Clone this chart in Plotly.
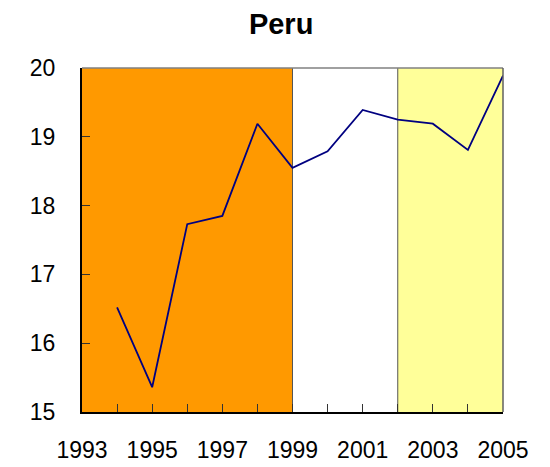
import plotly.graph_objects as go

years = [1994, 1995, 1996, 1997, 1998, 1999, 2000, 2001, 2002, 2003, 2004, 2005]
values = [16.52, 15.36, 17.73, 17.85, 19.19, 18.55, 18.79, 19.39, 19.25, 19.19, 18.81, 19.89]
x_tick_years = list(range(1993, 2006))
x_tick_labels = [str(y) if (y - 1993) % 2 == 0 else "" for y in x_tick_years]
y_ticks = [15, 16, 17, 18, 19, 20]
bands = [(1993, 1999, "#FF9900"), (2002, 2005, "#FFFF99")]
band_edges = [1999, 2002]

fig = go.Figure()
fig.add_trace(go.Scatter(x=years, y=values, mode="lines",
                         line=dict(color="#000080", width=1.8), showlegend=False))

shapes = []
for x0, x1, c in bands:
    shapes.append(dict(type="rect", xref="x", yref="y", x0=x0, x1=x1, y0=15, y1=20,
                       fillcolor=c, line=dict(width=0), layer="below"))
for e in band_edges:
    shapes.append(dict(type="line", xref="x", yref="y", x0=e, x1=e, y0=15, y1=20,
                       line=dict(color="#555555", width=1), layer="below"))
shapes.append(dict(type="line", xref="paper", yref="paper", x0=0, x1=1, y0=1, y1=1,
                   line=dict(color="#808080", width=1.5)))
shapes.append(dict(type="line", xref="paper", yref="paper", x0=1, x1=1, y0=0, y1=1,
                   line=dict(color="#606060", width=1.5)))

W, H = 542, 459
fig.update_layout(
    width=W, height=H,
    margin=dict(l=74, r=47, t=60, b=55),
    paper_bgcolor="white", plot_bgcolor="white",
    title=dict(text="<b>Peru</b>", x=0.473, xanchor="center", xref="paper",
               y=1 - 15.5 / H, yanchor="middle",
               font=dict(family="Arial, Liberation Sans", size=29, color="black")),
    font=dict(family="Arial, Liberation Sans", size=23, color="black"),
    shapes=shapes,
    xaxis=dict(range=[1993, 2005], tickvals=x_tick_years, ticktext=x_tick_labels,
               ticks="inside", ticklen=8, tickcolor="#333333", tickwidth=1,
               showline=True, linecolor="black", linewidth=2, showgrid=False,
               zeroline=False, tickfont=dict(size=23), ticklabelstandoff=16,
               automargin=False),
    yaxis=dict(range=[15, 20], tickvals=y_ticks,
               ticks="inside", ticklen=8, tickcolor="#333333", tickwidth=1,
               showline=True, linecolor="black", linewidth=2, showgrid=False,
               zeroline=False, tickfont=dict(size=23), ticklabelstandoff=20,
               automargin=False),
)

fig.write_html("out.html")
